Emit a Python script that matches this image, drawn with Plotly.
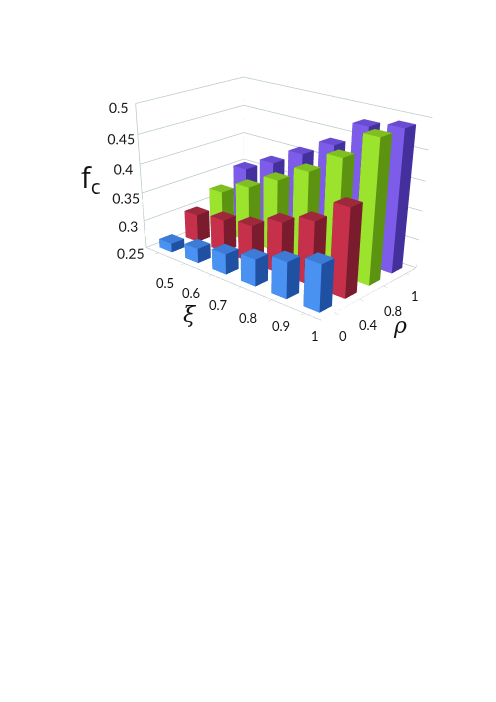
import plotly.graph_objects as go

xi_labels = ["0.5", "0.6", "0.7", "0.8", "0.9", "1"]
rho_labels = ["0", "0.4", "0.8", "1"]
z_ticks = [0.25, 0.3, 0.35, 0.4, 0.45, 0.5]

rho_0 = [0.266, 0.276, 0.286, 0.297, 0.313, 0.33]
rho_04 = [0.30, 0.308, 0.316, 0.34, 0.36, 0.40]
rho_08 = [0.325, 0.35, 0.378, 0.408, 0.445, 0.49]
rho_1 = [0.352, 0.378, 0.408, 0.437, 0.48, 0.49]
series = [rho_0, rho_04, rho_08, rho_1]

# screen positions of the floor-axis labels
xi_label_px = [(157, 275), (183, 285), (210, 297), (240, 310), (273, 318), (307, 328)]
rho_label_px = [(335, 328), (360, 317), (385, 303), (407, 288)]

# colours: front face, side face, top face
palette = [
    ("#4a92f2", "#1f50a2", "#3c7cd6"),
    ("#c6304a", "#7a1c2e", "#a0283c"),
    ("#9ce32e", "#5c9412", "#80bf22"),
    ("#7c5ce8", "#44309c", "#6a4cd2"),
]
BASE = 0.25
W = 0.24
GRID = "#b9c9c9"

fig = go.Figure()
for j, values in reversed(list(enumerate(series))):
    xs, ys, zs, ii, jj, kk, cols = [], [], [], [], [], [], []
    front, side, top = palette[j]
    for i, v in enumerate(values):
        n = len(xs)
        for dz in (BASE, v):
            for dx, dy in ((-W, -W), (W, -W), (W, W), (-W, W)):
                xs.append(i + dx); ys.append(j + dy); zs.append(dz)
        faces = [
            (0, 1, 5, front), (0, 5, 4, front),
            (1, 2, 6, side), (1, 6, 5, side),
            (4, 5, 6, top), (4, 6, 7, top),
            (2, 3, 7, side), (2, 7, 6, side),
            (3, 0, 4, side), (3, 4, 7, side),
        ]
        for a, b, c, col in faces:
            ii.append(n + a); jj.append(n + b); kk.append(n + c); cols.append(col)
    fig.add_trace(go.Mesh3d(
        x=xs, y=ys, z=zs, i=ii, j=jj, k=kk, facecolor=cols, flatshading=True,
        lighting=dict(ambient=1, diffuse=0, specular=0, roughness=1, fresnel=0),
        hoverinfo="skip", showscale=False,
    ))

xmin, xmax = -0.5, len(xi_labels) - 0.5
ymin, ymax = -0.5, len(rho_labels) - 0.5
zmin, zmax = z_ticks[0], z_ticks[-1]
edges = [
    ([xmin, xmin], [ymax, ymax], [zmin, zmax]),
    ([xmax, xmax], [ymax, ymax], [zmin, zmax]),
    ([xmin, xmin], [ymin, ymin], [zmin, zmax]),
    ([xmin, xmax], [ymin, ymin], [zmin, zmin]),
    ([xmax, xmax], [ymin, ymax], [zmin, zmin]),
]
for ex, ey, ez in edges:
    fig.add_trace(go.Scatter3d(x=ex, y=ey, z=ez, mode="lines",
                               line=dict(color=GRID, width=1.5),
                               hoverinfo="skip", showlegend=False))

tick_font = dict(family="Lato", size=13, color="#1a1a1a")
fig.update_layout(
    width=496, height=702, autosize=False,
    margin=dict(l=0, r=0, t=0, b=0),
    paper_bgcolor="white", showlegend=False,
    scene=dict(
        domain=dict(x=[0, 1], y=[0, 1]),
        aspectmode="manual", aspectratio=dict(x=2.85, y=1.81, z=1.80),
        camera=dict(eye=dict(x=6.331, y=-7.239, z=3.414),
                    center=dict(x=0.511, y=-0.949, z=-1.736),
                    projection=dict(type="perspective")),
        xaxis=dict(range=[xmin, xmax], tickvals=list(range(6)), ticktext=xi_labels, tickangle=0,
                   title=dict(text=""), showgrid=False, showbackground=False, zeroline=False,
                   showline=False, ticks="outside", ticklen=4, tickcolor=GRID, showticklabels=False),
        yaxis=dict(range=[ymin, ymax], tickvals=list(range(4)), ticktext=rho_labels, tickangle=0,
                   title=dict(text=""), showgrid=False, showbackground=False, zeroline=False,
                   showline=False, ticks="outside", ticklen=4, tickcolor=GRID, showticklabels=False),
        zaxis=dict(range=[zmin, zmax], tickvals=z_ticks, ticktext=[str(t) for t in z_ticks], tickangle=0,
                   title=dict(text=""), showgrid=True, gridcolor=GRID, gridwidth=1.5,
                   showbackground=False, zeroline=False, showline=False, tickfont=tick_font),
    ),
)
W_PX, H_PX = 496, 702
labels = [
    ("f<sub>c</sub>", 83, 170, 29, "Open Sans"),
    ("<i>ξ</i>", 182, 307, 22, "DejaVu Serif"),
    ("<i>ρ</i>", 392, 317, 22, "DejaVu Serif"),
]
labels += [(t, p[0], p[1], 13, "Lato") for t, p in zip(xi_labels, xi_label_px)]
labels += [(t, p[0], p[1], 13, "Lato") for t, p in zip(rho_labels, rho_label_px)]
for text, px, py, size, fam in labels:
    fig.add_annotation(text=text, x=px / W_PX, y=1 - py / H_PX, xref="paper", yref="paper",
                       xanchor="center", yanchor="middle",
                       showarrow=False, font=dict(family=fam, size=size, color="#111111"))
fig.write_html("out.html")
